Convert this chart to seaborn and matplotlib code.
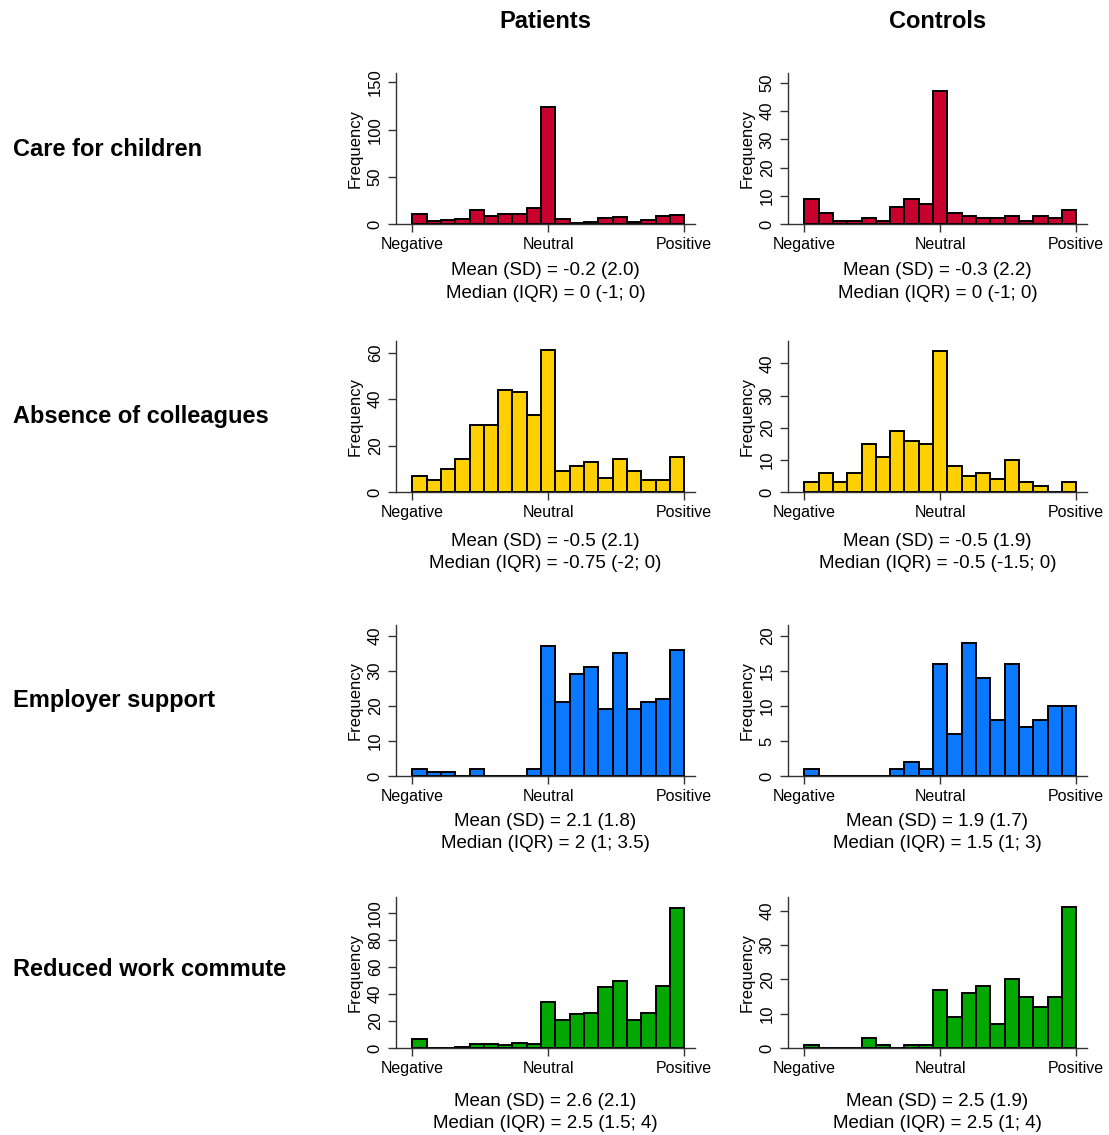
import numpy as np
import pandas as pd
import matplotlib.pyplot as plt
import seaborn as sns

sns.set_theme(style="ticks")
plt.rcParams["font.family"] = ["Liberation Sans", "DejaVu Sans"]
plt.rcParams["text.color"] = "black"
plt.rcParams["axes.labelcolor"] = "black"

# Data: counts per bin (19 bins from Negative to Positive)
rows = ["Care for children", "Absence of colleagues", "Employer support", "Reduced work commute"]
groups = ["Patients", "Controls"]
x_labels = ["Negative", "Neutral", "Positive"]

children_patients = [11, 3, 4, 5, 15, 8, 11, 11, 17, 124, 5, 1, 2, 6, 7, 2, 4, 8, 10]
children_controls = [9, 4, 1, 1, 2, 1, 6, 9, 7, 47, 4, 3, 2, 2, 3, 1, 3, 2, 5]
colleagues_patients = [7, 5, 10, 14, 29, 29, 44, 43, 33, 61, 9, 11, 13, 6, 14, 9, 5, 5, 15]
colleagues_controls = [3, 6, 3, 6, 15, 11, 19, 16, 15, 44, 8, 5, 6, 4, 10, 3, 2, 0, 3]
employer_patients = [2, 1, 1, 0, 2, 0, 0, 0, 2, 37, 21, 29, 31, 19, 35, 19, 21, 22, 36]
employer_controls = [1, 0, 0, 0, 0, 0, 1, 2, 1, 16, 6, 19, 14, 8, 16, 7, 8, 10, 10]
commute_patients = [7, 0, 0, 1, 3, 3, 2, 4, 3, 34, 21, 25, 26, 45, 50, 21, 26, 46, 104]
commute_controls = [1, 0, 0, 0, 3, 1, 0, 1, 1, 17, 9, 16, 18, 7, 20, 15, 12, 15, 41]

counts = [[children_patients, children_controls],
          [colleagues_patients, colleagues_controls],
          [employer_patients, employer_controls],
          [commute_patients, commute_controls]]

stats = [[("Mean (SD) = -0.2 (2.0)", "Median (IQR) = 0 (-1; 0)"),
          ("Mean (SD) = -0.3 (2.2)", "Median (IQR) = 0 (-1; 0)")],
         [("Mean (SD) = -0.5 (2.1)", "Median (IQR) = -0.75 (-2; 0)"),
          ("Mean (SD) = -0.5 (1.9)", "Median (IQR) = -0.5 (-1.5; 0)")],
         [("Mean (SD) = 2.1 (1.8)", "Median (IQR) = 2 (1; 3.5)"),
          ("Mean (SD) = 1.9 (1.7)", "Median (IQR) = 1.5 (1; 3)")],
         [("Mean (SD) = 2.6 (2.1)", "Median (IQR) = 2.5 (1.5; 4)"),
          ("Mean (SD) = 2.5 (1.9)", "Median (IQR) = 2.5 (1; 4)")]]

y_max_tick = [[150, 50], [60, 40], [40, 20], [100, 40]]
y_step = [[50, 10], [20, 10], [10, 5], [20, 10]]
y_top = [[160, 53.5], [65, 47], [43, 21.6], [112, 44]]

colors = ["#C8002D", "#FFD000", "#0A78FF", "#00A800"]

W, H = 1109, 1135
fig = plt.figure(figsize=(W / 100, H / 100), dpi=100)

ax_left = [396, 788]
ax_w = 299
ax_bottom = [224, 492, 776, 1048]
ax_h = 151
row_label_y = [150, 417, 700, 969]
stat_gap = [47, 49, 45, 53]

n_bins = 19
edges = np.linspace(-5, 5, n_bins + 1)
centers = (edges[:-1] + edges[1:]) / 2

for r in range(4):
    fig.text(13 / W, 1 - row_label_y[r] / H, rows[r], ha="left", va="center",
             fontsize=17, fontweight="bold", color="black")
    for c in range(2):
        ax = fig.add_axes([ax_left[c] / W, 1 - ax_bottom[r] / H, ax_w / W, ax_h / H])
        df = pd.DataFrame({"score": centers, "n": np.asarray(counts[r][c], dtype=float)})
        sns.histplot(data=df, x="score", weights="n", bins=n_bins, binrange=(-5, 5), ax=ax,
                     color=colors[r], edgecolor="black", linewidth=1.4, alpha=1)
        ax.set_xlim(-5.6, 5.4)
        ax.set_ylim(0, y_top[r][c])
        ax.set_xticks([-5, 0, 5])
        ax.set_xticklabels(x_labels)
        ax.set_yticks(np.arange(0, y_max_tick[r][c] + 1, y_step[r][c]))
        ax.tick_params(axis="y", labelrotation=90, labelsize=12, length=6, width=1, colors="#333333", labelcolor="black")
        for lab in ax.get_yticklabels():
            lab.set_va("center")
        ax.tick_params(axis="x", labelsize=11.5, length=6, width=1, colors="#333333", labelcolor="black")
        ax.set_ylabel("Frequency", fontsize=12, color="black")
        ax.set_xlabel("")
        sns.despine(ax=ax)
        for s in ["left", "bottom"]:
            ax.spines[s].set_color("#333333")
            ax.spines[s].set_linewidth(1)
        cx = (ax_left[c] + ax_w / 2) / W
        y1 = ax_bottom[r] + stat_gap[r]
        fig.text(cx, 1 - y1 / H, stats[r][c][0], ha="center", va="center", fontsize=13.5, color="black")
        fig.text(cx, 1 - (y1 + 23) / H, stats[r][c][1], ha="center", va="center", fontsize=13.5, color="black")

for c in range(2):
    fig.text((ax_left[c] + ax_w / 2) / W, 1 - 22 / H, groups[c], ha="center", va="center",
             fontsize=17, fontweight="bold", color="black")

fig.savefig("out.png", dpi=100, facecolor="white")
